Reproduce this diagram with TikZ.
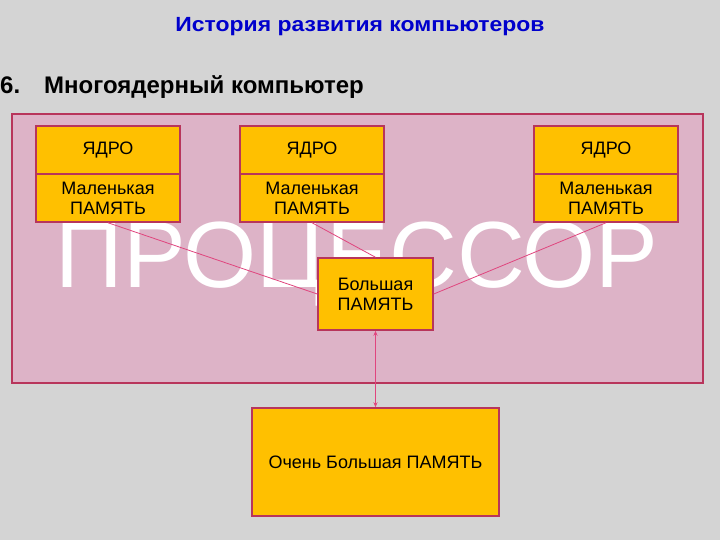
\documentclass[tikz,border=0pt]{standalone}
\usepackage{fontspec}
\setmainfont{Liberation Sans}
\newfontfamily\widefont[FakeStretch=1.12]{Liberation Sans}
\usetikzlibrary{arrows.meta}

\definecolor{slidegray}{HTML}{D4D4D4}
\definecolor{procfill}{HTML}{DDB3C7}
\definecolor{boxline}{HTML}{B8355B}
\definecolor{coreyellow}{HTML}{FFC000}
\definecolor{linkpink}{HTML}{E0457E}
\definecolor{titleblue}{HTML}{0000CC}

\tikzset{
  unitbox/.style={draw=boxline,line width=1.5pt,fill=coreyellow,align=center,
    inner sep=0pt,minimum width=144pt,minimum height=48pt,
    font=\fontsize{18}{20}\selectfont},
  link/.style={linkpink,line width=0.8pt}
}

\begin{document}
\begin{tikzpicture}[x=1pt,y=-1pt]
        \fill[slidegray] (0,0) rectangle (720,540);
        \useasboundingbox (0,0) rectangle (720,540);
        % titles
        \node[anchor=base,inner sep=0pt,titleblue,font=\widefont\bfseries\fontsize{20.5}{23}\selectfont] (title) at (360,32) {История развития компьютеров};
        \node[anchor=base west,inner sep=0pt,font=\bfseries\fontsize{24}{28}\selectfont] (num) at (0,93.3) {6.};
        \node[anchor=base west,inner sep=0pt,font=\bfseries\fontsize{24}{28}\selectfont] (subtitle) at (44,93.3) {Многоядерный компьютер};
        % processor
        \draw[boxline,line width=1.5pt,fill=procfill] (12,114) rectangle (703,383);
        \node[anchor=base,white,inner sep=0pt,font=\fontsize{94}{100}\selectfont] (proc) at (357,287) {ПРОЦЕССОР};
        % cores
        \node[unitbox] (core1) at (108,150) {ЯДРО};
        \node[unitbox] (mem1) at (108,198) {Маленькая\\ПАМЯТЬ};
        \node[unitbox] (core2) at (312,150) {ЯДРО};
        \node[unitbox] (mem2) at (312,198) {Маленькая\\ПАМЯТЬ};
        \node[unitbox] (core3) at (606,150) {ЯДРО};
        \node[unitbox] (mem3) at (606,198) {Маленькая\\ПАМЯТЬ};
        \node[unitbox,minimum width=115pt,minimum height=72pt] (big) at (375.5,294) {Большая\\ПАМЯТЬ};
        \node[unitbox,minimum width=247pt,minimum height=108pt] (huge) at (375.5,462) {Очень Большая ПАМЯТЬ};
        % links
        \draw[link] (mem1.south) -- (big.west);
        \draw[link] (mem2.south) -- (big.north);
        \draw[link] (mem3.south) -- (big.east);
        \draw[link,{Stealth[length=5pt,width=4pt]}-{Stealth[length=5pt,width=4pt]}] (big) -- (huge);
      \end{tikzpicture}
\end{document}
